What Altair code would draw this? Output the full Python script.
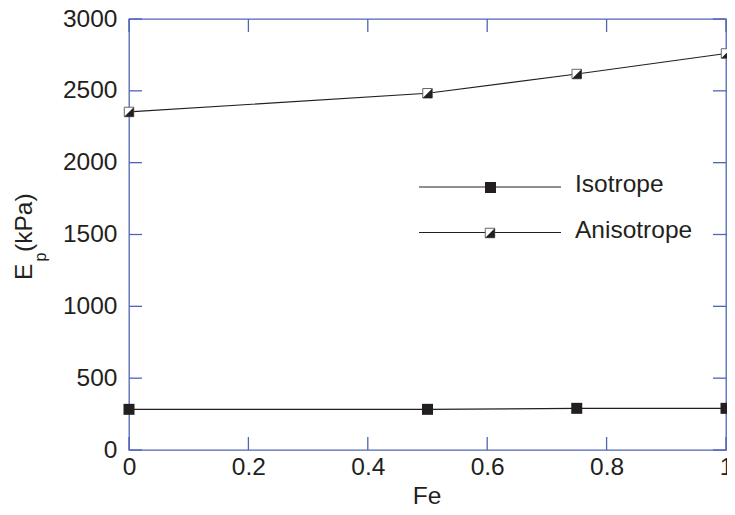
import altair as alt
import pandas as pd

# ---- data ----
fe = [0, 0.5, 0.75, 1]
isotrope = [283, 283, 290, 290]
anisotrope = [2353, 2483, 2617, 2760]
series = ["Isotrope", "Anisotrope"]
x_ticks = [0, 0.2, 0.4, 0.6, 0.8, 1]
y_ticks = [0, 500, 1000, 1500, 2000, 2500, 3000]

W, H = 597, 431
BLUE = "#5064b8"
INK = "#231f20"
FONT = "Liberation Sans"
FS = 24.5

df = pd.DataFrame({
    "Fe": fe + fe,
    "Ep": isotrope + anisotrope,
    "series": [series[0]] * len(fe) + [series[1]] * len(fe),
})
iso_df = df[df.series == series[0]]
ani_df = df[df.series == series[1]]
xt = pd.DataFrame({"v": x_ticks})
yt = pd.DataFrame({"v": y_ticks})

xs = alt.Scale(domain=[0, 1], nice=False, zero=False)
ys = alt.Scale(domain=[0, 3000], nice=False)

xaxis = alt.Axis(values=x_ticks, format="~g", ticks=False, domain=False, grid=False,
                 labelFontSize=FS, labelFont=FONT, labelColor=INK, labelPadding=5,
                 labelFlush=False, labelOverlap=False, title=None)
yaxis = alt.Axis(values=y_ticks, format="d", ticks=False, domain=False, grid=False,
                 labelFontSize=FS, labelFont=FONT, labelColor=INK, labelPadding=12,
                 labelFlush=False, labelOverlap=False, title=None)

base = alt.Chart(df).encode(
    x=alt.X("Fe:Q", scale=xs, axis=xaxis),
    y=alt.Y("Ep:Q", scale=ys, axis=yaxis),
)

lines = base.mark_line(color=INK, strokeWidth=1.2).encode(detail="series:N")

iso_pts = alt.Chart(iso_df).mark_point(shape="square", filled=True, size=121, color=INK, opacity=1).encode(
    x=alt.X("Fe:Q", scale=xs), y=alt.Y("Ep:Q", scale=ys))
ani_sq = alt.Chart(ani_df).mark_point(shape="square", filled=True, size=90, fill="white",
                                      stroke="#666666", strokeWidth=1, opacity=1).encode(
    x=alt.X("Fe:Q", scale=xs), y=alt.Y("Ep:Q", scale=ys))
TRI = "M 1 -1 L 1 1 L -1 1 Z"
ani_tri = alt.Chart(ani_df).mark_point(shape=TRI, filled=True, size=90, color=INK, opacity=1).encode(
    x=alt.X("Fe:Q", scale=xs), y=alt.Y("Ep:Q", scale=ys))

# inward ticks on all four sides
tick_style = dict(color=BLUE, strokeWidth=1.3)
xb = alt.Chart(xt).mark_rule(**tick_style).encode(x=alt.X("v:Q", scale=xs), y=alt.value(H), y2=alt.value(H - 13))
xtop = alt.Chart(xt).mark_rule(**tick_style).encode(x=alt.X("v:Q", scale=xs), y=alt.value(0), y2=alt.value(13))
yl = alt.Chart(yt).mark_rule(**tick_style).encode(y=alt.Y("v:Q", scale=ys), x=alt.value(0), x2=alt.value(13))
yr = alt.Chart(yt).mark_rule(**tick_style).encode(y=alt.Y("v:Q", scale=ys), x=alt.value(W), x2=alt.value(W - 13))

# legend
one = pd.DataFrame({"k": [0]})
def legend_line(y):
    return alt.Chart(one).mark_rule(color=INK, strokeWidth=1.2).encode(
        x=alt.value(290), x2=alt.value(432), y=alt.value(y))

leg = [
    legend_line(168),
    legend_line(213.5),
    alt.Chart(one).mark_point(shape="square", filled=True, size=121, color=INK, opacity=1).encode(
        x=alt.value(361.5), y=alt.value(168.5)),
    alt.Chart(one).mark_point(shape="square", filled=True, size=90, fill="white", stroke="#666666",
                              strokeWidth=1, opacity=1).encode(x=alt.value(361), y=alt.value(214)),
    alt.Chart(one).mark_point(shape=TRI, filled=True, size=90, color=INK, opacity=1).encode(
        x=alt.value(361), y=alt.value(214)),
    alt.Chart(one).mark_text(font=FONT, fontSize=FS, color=INK, align="left", baseline="alphabetic").encode(
        x=alt.value(446), y=alt.value(173), text=alt.value(series[0])),
    alt.Chart(one).mark_text(font=FONT, fontSize=FS, color=INK, align="left", baseline="alphabetic").encode(
        x=alt.value(446), y=alt.value(219), text=alt.value(series[1])),
]

# axis titles
titles = [
    alt.Chart(one).mark_text(font=FONT, fontSize=FS, color=INK, align="center", baseline="alphabetic").encode(
        x=alt.value(298), y=alt.value(485), text=alt.value("Fe")),
    alt.Chart(one).mark_text(font=FONT, fontSize=FS, color=INK, align="left", baseline="alphabetic", angle=270).encode(
        x=alt.value(-97), y=alt.value(261), text=alt.value("E")),
    alt.Chart(one).mark_text(font=FONT, fontSize=16, color=INK, align="center", baseline="alphabetic", angle=270).encode(
        x=alt.value(-83), y=alt.value(238), text=alt.value("p")),
    alt.Chart(one).mark_text(font=FONT, fontSize=FS, color=INK, align="left", baseline="alphabetic", angle=270).encode(
        x=alt.value(-97), y=alt.value(233), text=alt.value("(kPa)")),
]

chart = alt.layer(lines, ani_sq, ani_tri, iso_pts, xb, xtop, yl, yr, *leg, *titles).properties(
    width=W, height=H,
    autosize=alt.AutoSizeParams(type="none"),
    padding={"left": 121, "top": 11, "right": 1, "bottom": 57},
    background="white",
).configure_view(stroke=BLUE, strokeWidth=1.3)

chart.save("out.html", embed_options={"renderer": "svg", "actions": False})
